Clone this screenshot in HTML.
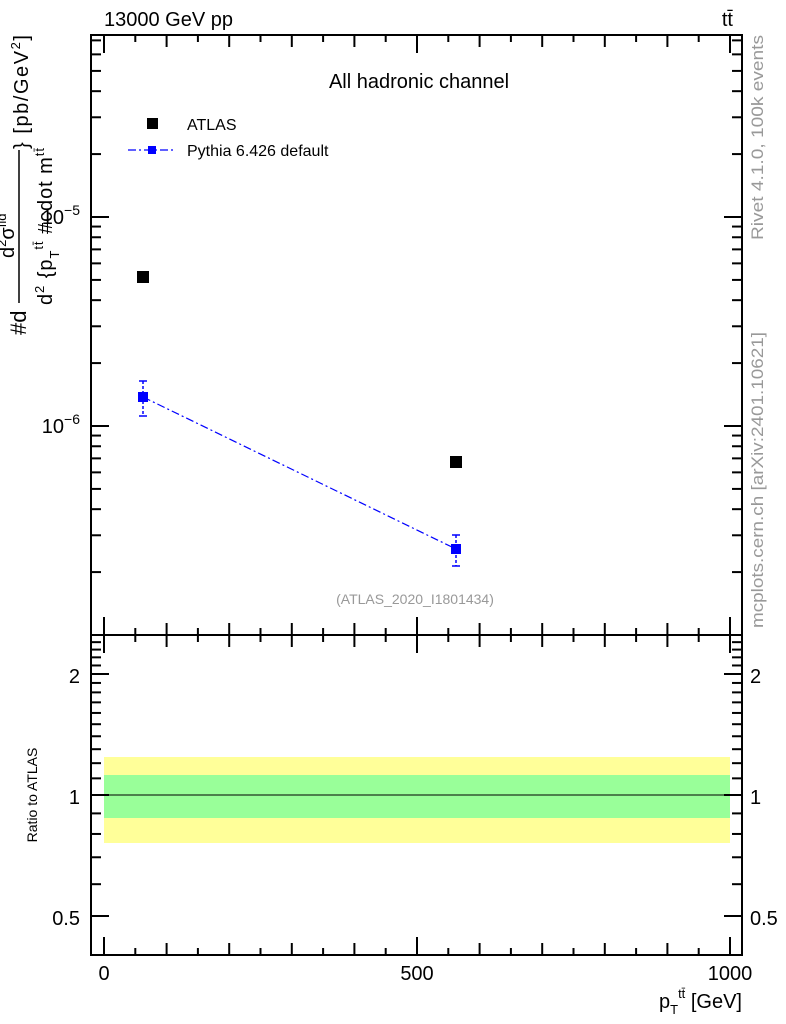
<!DOCTYPE html>
<html><head><meta charset="utf-8"><style>
body{margin:0;background:#fff;}
svg{display:block;font-family:"Liberation Sans",sans-serif;}
</style></head><body>
<svg id="s" width="786" height="1024" xmlns="http://www.w3.org/2000/svg">
<rect x="0" y="0" width="786" height="1024" fill="#fff"/>
<rect x="104" y="757" width="626" height="86" fill="#ffff99"/>
<rect x="104" y="775" width="626" height="43" fill="#99ff99"/>
<line x1="91" y1="795" x2="742" y2="795" stroke="#000" stroke-width="1"/>
<g id="ticks" stroke="#000" stroke-width="2"></g>
<rect x="91" y="35" width="651" height="920" fill="none" stroke="#000" stroke-width="2"/>
<line x1="91" y1="635" x2="742" y2="635" stroke="#000" stroke-width="2"/>
<rect x="137" y="271" width="12" height="12" fill="#000"/>
<rect x="450" y="456" width="12" height="12" fill="#000"/>
<g stroke="#0000ff" stroke-width="1.5">
<line x1="143" y1="381" x2="143" y2="416" stroke-dasharray="3,2"/>
<line x1="139" y1="381" x2="147" y2="381"/><line x1="139" y1="416" x2="147" y2="416"/>
<line x1="456" y1="535" x2="456" y2="566" stroke-dasharray="3,2"/>
<line x1="452" y1="535" x2="460" y2="535"/><line x1="452" y1="566" x2="460" y2="566"/>
<line x1="143" y1="397" x2="456" y2="549" stroke-dasharray="8,3,2,3" stroke-width="1.2"/>
</g>
<rect x="138" y="392" width="10" height="10" fill="#0000ff"/>
<rect x="451" y="544" width="10" height="10" fill="#0000ff"/>
<rect x="147" y="118" width="11" height="11" fill="#000"/>
<text x="187" y="130" font-size="16">ATLAS</text>
<line x1="128" y1="150" x2="175" y2="150" stroke="#0000ff" stroke-width="1.2" stroke-dasharray="8,3,2,3"/>
<rect x="148" y="146" width="8" height="8" fill="#0000ff"/>
<text x="187" y="156" font-size="16">Pythia 6.426 default</text>
<text x="419" y="88" font-size="20" text-anchor="middle">All hadronic channel</text>
<text x="415" y="604" font-size="14" fill="#999" text-anchor="middle">(ATLAS_2020_I1801434)</text>
<text x="104" y="26" font-size="20">13000 GeV pp</text>
<text x="733" y="26" font-size="20" text-anchor="end">tt̄</text>
<text x="80" y="224" font-size="20" text-anchor="end">10<tspan dy="-9" font-size="14">−5</tspan></text>
<text x="80" y="433" font-size="20" text-anchor="end">10<tspan dy="-9" font-size="14">−6</tspan></text>
<text x="80" y="683" font-size="20" text-anchor="end">2</text>
<text x="80" y="804" font-size="20" text-anchor="end">1</text>
<text x="80" y="925" font-size="20" text-anchor="end">0.5</text>
<text x="750" y="683" font-size="20">2</text>
<text x="750" y="804" font-size="20">1</text>
<text x="750" y="925" font-size="20">0.5</text>
<text x="104" y="980" font-size="20" text-anchor="middle">0</text>
<text x="417" y="980" font-size="20" text-anchor="middle">500</text>
<text x="730" y="980" font-size="20" text-anchor="middle">1000</text>
<text x="742" y="1008" font-size="20" text-anchor="end">p<tspan dy="6" font-size="13">T</tspan><tspan dy="-16" font-size="13">tt̄</tspan><tspan dy="10"> [GeV]</tspan></text>
<text transform="translate(37,795) rotate(-90)" font-size="14" text-anchor="middle">Ratio to ATLAS</text>
<text transform="translate(26,335) rotate(-90)" font-size="22">#d</text>
<line x1="19" y1="303" x2="19" y2="150" stroke="#000" stroke-width="1.5"/>
<text transform="translate(14,258) rotate(-90)" font-size="20">d<tspan dy="-8" font-size="13">2</tspan><tspan dy="8">σ</tspan><tspan dy="-8" font-size="13">fid</tspan></text>
<text transform="translate(52,305) rotate(-90)" font-size="20" textLength="157">d<tspan dy="-8" font-size="13">2</tspan><tspan dy="8"> {p</tspan><tspan dy="7" font-size="13">T</tspan><tspan dy="-16" font-size="13">tt̄</tspan><tspan dy="9"> #cdot m</tspan><tspan dy="-8" font-size="13">tt̄</tspan></text>
<text transform="translate(28,149) rotate(-90)" font-size="20" textLength="114">} [pb/GeV<tspan dy="-8" font-size="13">2</tspan><tspan dy="8">]</tspan></text>
<text transform="translate(763,240) rotate(-90)" font-size="17" fill="#999" textLength="205" lengthAdjust="spacingAndGlyphs">Rivet 4.1.0,  100k events</text>
<text transform="translate(763,628) rotate(-90)" font-size="17" fill="#999" textLength="296" lengthAdjust="spacingAndGlyphs">mcplots.cern.ch [arXiv:2401.10621]</text>
</svg>
<script>
var g=document.getElementById('ticks'),h='';
function L(a,b,c,d){h+='<line x1="'+a+'" y1="'+b+'" x2="'+c+'" y2="'+d+'"/>';}
for(var e=-7;e<=-5;e++)for(var m=1;m<=9;m++){var v=Math.log10(m)+e;var y=217-209*(v+5);if(y<36||y>634)continue;var l=(m==1)?17:9;L(92,y,92+l,y);L(741,y,741-l,y);}
for(var r=0.4;r<=2.51;r+=0.1){var y=795-402*Math.log10(r);if(y<636||y>954)continue;var rr=Math.round(r*10)/10;var l=(rr==0.5||rr==1||rr==2)?17:9;L(92,y,92+l,y);L(741,y,741-l,y);}
for(var x=0;x<=1000;x+=50){var px=104+0.626*x;var l=(x%100==0)?(x%500==0?17:11):6;L(px,36,px,36+l);L(px,634,px,634-l);L(px,636,px,636+l);L(px,954,px,954-l);}
g.innerHTML=h;
</script>
</body></html>
